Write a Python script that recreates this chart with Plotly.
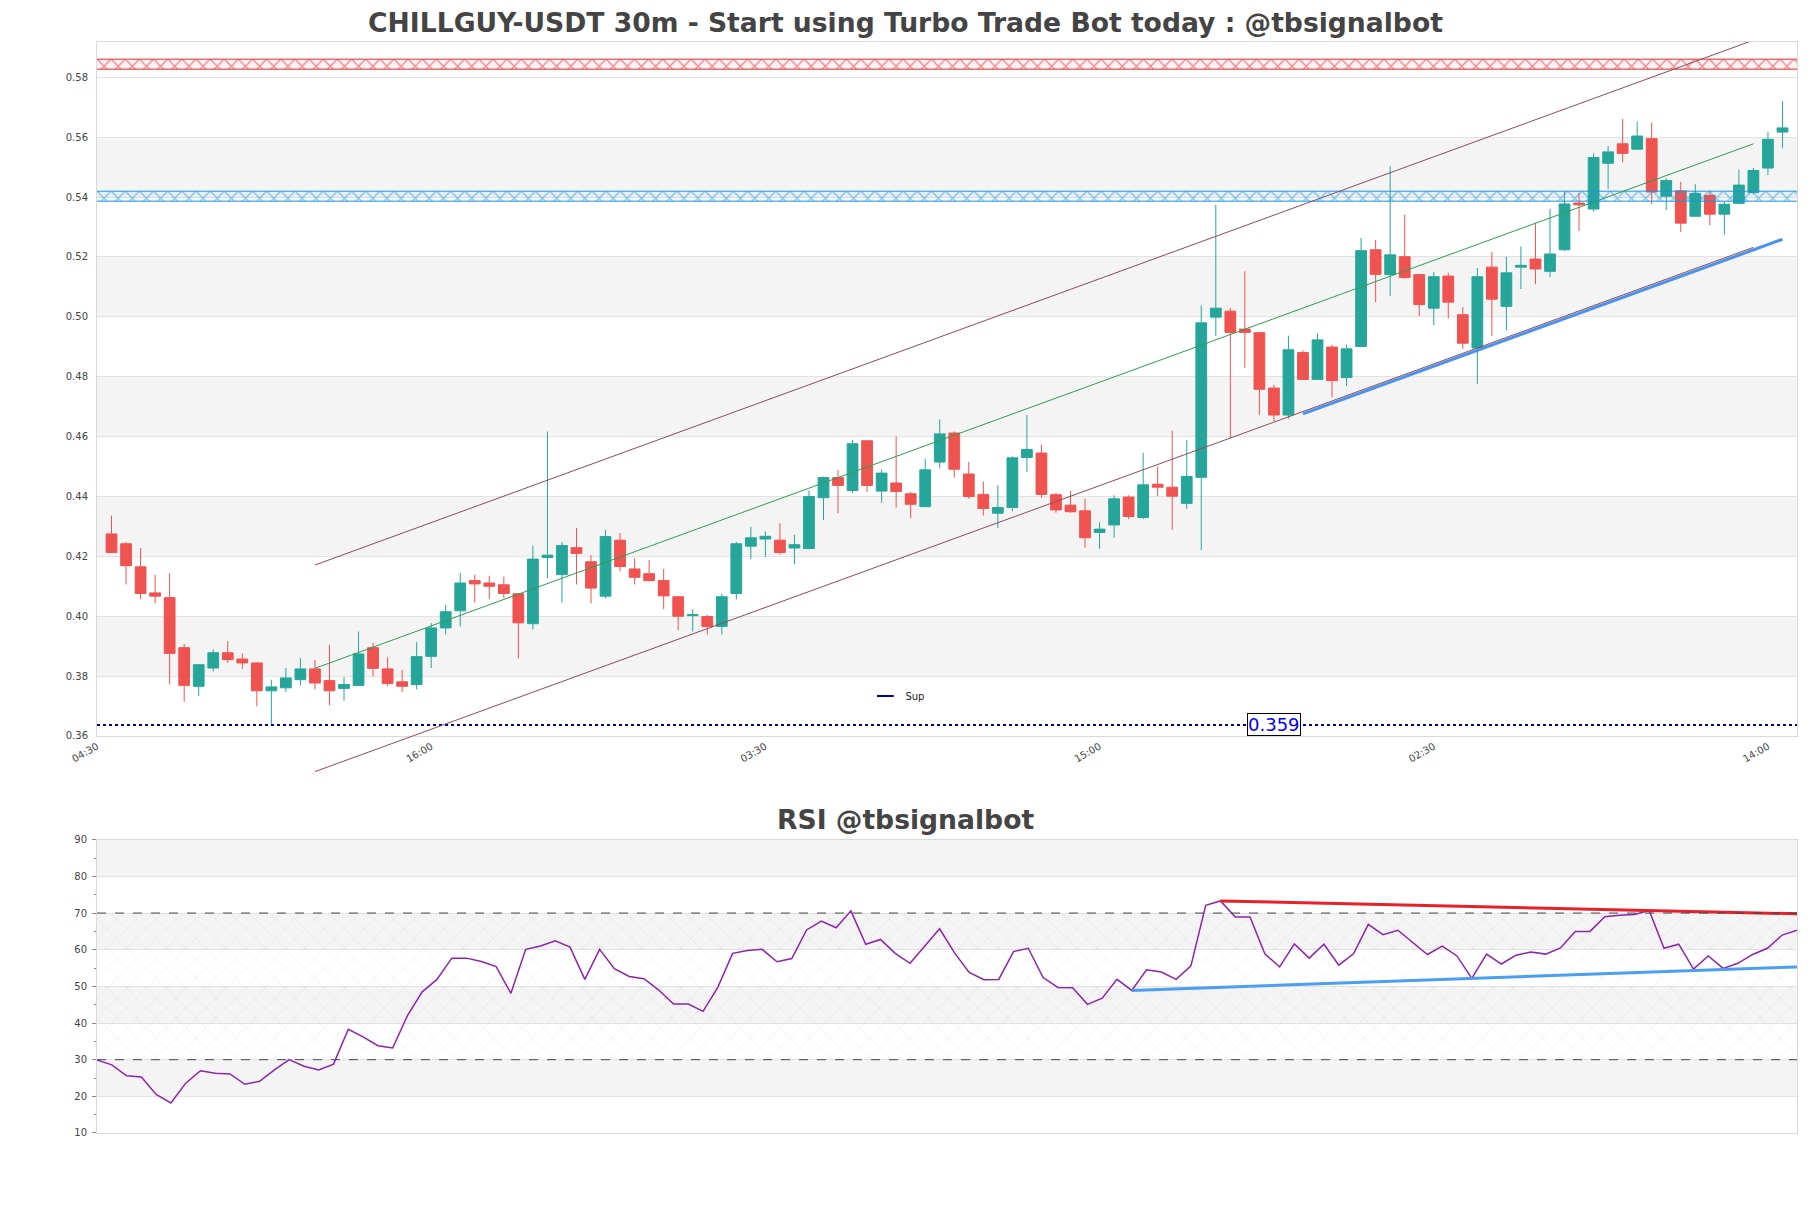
import pandas as pd
import plotly.graph_objects as go

title = 'CHILLGUY-USDT 30m - Start using Turbo Trade Bot today : @tbsignalbot'
rsi_title = 'RSI @tbsignalbot'

# 30m candles
open_ = [
	0.4275, 0.4242, 0.4165, 0.4078, 0.4062, 0.3895, 0.3766, 0.3827, 0.3878, 0.3857,
	0.3844, 0.3751, 0.3761, 0.3788, 0.3824, 0.3785, 0.3759, 0.3769, 0.3895, 0.3824,
	0.3781, 0.3772, 0.3866, 0.3961, 0.4018, 0.4119, 0.4111, 0.4105, 0.4075, 0.3975,
	0.4196, 0.4139, 0.4229, 0.4182, 0.4067, 0.4254, 0.4158, 0.4142, 0.4119, 0.4065,
	0.4002, 0.3999, 0.3966, 0.4076, 0.4234, 0.4258, 0.4254, 0.4228, 0.4226, 0.4396,
	0.4463, 0.4420, 0.4586, 0.4418, 0.4445, 0.4409, 0.4366, 0.4515, 0.4612, 0.4475,
	0.4407, 0.4344, 0.4363, 0.4530, 0.4545, 0.4406, 0.4371, 0.4352, 0.4280, 0.4305,
	0.4398, 0.4330, 0.4441, 0.4431, 0.4377, 0.4464, 0.4999, 0.5019, 0.4959, 0.4947,
	0.4762, 0.4672, 0.4881, 0.4791, 0.4899, 0.4797, 0.4901, 0.5224, 0.5141, 0.5201,
	0.5141, 0.5029, 0.5136, 0.5007, 0.4896, 0.5166, 0.5035, 0.5166, 0.5193, 0.5152,
	0.5224, 0.5380, 0.5360, 0.5513, 0.5578, 0.5560, 0.5595, 0.5403, 0.5421, 0.5336,
	0.5406, 0.5343, 0.5379, 0.5415, 0.5497, 0.5617]
high = [
	0.4336, 0.4248, 0.4228, 0.4138, 0.4144, 0.3908, 0.3841, 0.3890, 0.3917, 0.3876,
	0.3846, 0.3788, 0.3827, 0.3860, 0.3854, 0.3904, 0.3797, 0.3949, 0.3911, 0.3863,
	0.3821, 0.3914, 0.3977, 0.4038, 0.4144, 0.4138, 0.4135, 0.4132, 0.4077, 0.4236,
	0.4617, 0.4248, 0.4295, 0.4204, 0.4289, 0.4278, 0.4193, 0.4188, 0.4158, 0.4067,
	0.4024, 0.4005, 0.4075, 0.4248, 0.4299, 0.4284, 0.4311, 0.4272, 0.4420, 0.4466,
	0.4488, 0.4589, 0.4588, 0.4491, 0.4601, 0.4415, 0.4526, 0.4658, 0.4617, 0.4515,
	0.4450, 0.4437, 0.4534, 0.4672, 0.4573, 0.4412, 0.4418, 0.4392, 0.4314, 0.4404,
	0.4404, 0.4546, 0.4500, 0.4620, 0.4589, 0.5038, 0.5374, 0.5030, 0.5152, 0.4950,
	0.4773, 0.4937, 0.4888, 0.4945, 0.4907, 0.4907, 0.5264, 0.5257, 0.5503, 0.5341,
	0.5142, 0.5150, 0.5147, 0.5032, 0.5163, 0.5216, 0.5201, 0.5235, 0.5314, 0.5361,
	0.5420, 0.5414, 0.5546, 0.5570, 0.5661, 0.5652, 0.5649, 0.5463, 0.5451, 0.5443,
	0.5421, 0.5385, 0.5491, 0.5497, 0.5617, 0.5720]
low = [
	0.4213, 0.4106, 0.4057, 0.4043, 0.3772, 0.3714, 0.3734, 0.3816, 0.3844, 0.3824,
	0.3699, 0.3635, 0.3747, 0.3769, 0.3756, 0.3703, 0.3718, 0.3766, 0.3799, 0.3766,
	0.3747, 0.3756, 0.3827, 0.3939, 0.3966, 0.4046, 0.4057, 0.4060, 0.3859, 0.3956,
	0.4127, 0.4046, 0.4106, 0.4043, 0.4060, 0.4150, 0.4106, 0.4116, 0.4024, 0.3953,
	0.3949, 0.3939, 0.3939, 0.4056, 0.4191, 0.4198, 0.4206, 0.4174, 0.4224, 0.4321,
	0.4344, 0.4412, 0.4415, 0.4379, 0.4363, 0.4327, 0.4364, 0.4494, 0.4463, 0.4392,
	0.4336, 0.4295, 0.4351, 0.4482, 0.4396, 0.4346, 0.4346, 0.4229, 0.4225, 0.4262,
	0.4324, 0.4324, 0.4401, 0.4289, 0.4359, 0.4220, 0.4936, 0.4595, 0.4830, 0.4672,
	0.4652, 0.4660, 0.4790, 0.4790, 0.4731, 0.4769, 0.4900, 0.5049, 0.5070, 0.5128,
	0.5002, 0.4972, 0.4994, 0.4893, 0.4775, 0.4936, 0.4955, 0.5093, 0.5109, 0.5133,
	0.5219, 0.5286, 0.5352, 0.5428, 0.5516, 0.5559, 0.5377, 0.5357, 0.5283, 0.5335,
	0.5306, 0.5275, 0.5378, 0.5409, 0.5474, 0.5563]
close = [
	0.4213, 0.4169, 0.4076, 0.4067, 0.3876, 0.3769, 0.3838, 0.3878, 0.3855, 0.3844,
	0.3751, 0.3764, 0.3794, 0.3824, 0.3777, 0.3751, 0.3772, 0.3874, 0.3826, 0.3775,
	0.3766, 0.3865, 0.3961, 0.4015, 0.4111, 0.4108, 0.4100, 0.4076, 0.3978, 0.4191,
	0.4204, 0.4236, 0.4210, 0.4094, 0.4266, 0.4166, 0.4130, 0.4119, 0.4068, 0.4000,
	0.4005, 0.3966, 0.4065, 0.4242, 0.4262, 0.4267, 0.4213, 0.4239, 0.4400, 0.4463,
	0.4437, 0.4576, 0.4437, 0.4478, 0.4417, 0.4374, 0.4489, 0.4609, 0.4491, 0.4400,
	0.4360, 0.4363, 0.4529, 0.4557, 0.4407, 0.4355, 0.4349, 0.4262, 0.4291, 0.4392,
	0.4333, 0.4439, 0.4431, 0.4401, 0.4467, 0.4980, 0.5029, 0.4948, 0.4948, 0.4758,
	0.4672, 0.4890, 0.4791, 0.4923, 0.4787, 0.4893, 0.5221, 0.5142, 0.5207, 0.5131,
	0.5041, 0.5134, 0.5049, 0.4912, 0.5134, 0.5059, 0.5147, 0.5172, 0.5160, 0.5210,
	0.5377, 0.5374, 0.5532, 0.5551, 0.5546, 0.5604, 0.5417, 0.5455, 0.5313, 0.5412,
	0.5343, 0.5376, 0.5440, 0.5489, 0.5593, 0.5631]
rsi = [
	29.9, 28.6, 25.6, 25.3, 20.5, 18.2, 23.6, 27.0, 26.3, 26.1,
	23.3, 24.1, 27.2, 30.0, 28.2, 27.2, 28.8, 38.3, 36.2, 33.8,
	33.2, 42.0, 48.5, 51.9, 57.7, 57.7, 56.8, 55.4, 48.1, 60.1,
	61.0, 62.4, 60.7, 51.9, 60.1, 54.8, 52.7, 52.1, 49.0, 45.2,
	45.2, 43.2, 49.8, 59.0, 59.8, 60.1, 56.7, 57.6, 65.4, 67.8,
	66.0, 70.6, 61.5, 62.8, 59.0, 56.3, 61.0, 65.7, 59.2, 53.8,
	51.8, 51.9, 59.5, 60.4, 52.4, 49.7, 49.6, 45.1, 46.8, 51.9,
	48.9, 54.5, 53.9, 51.9, 55.6, 72.1, 73.3, 68.9, 68.9, 58.9,
	55.3, 61.6, 57.7, 61.5, 55.8, 58.9, 66.9, 64.1, 65.3, 62.1,
	58.7, 61.0, 58.3, 52.2, 58.8, 56.1, 58.5, 59.4, 58.8, 60.5,
	65.0, 65.0, 69.0, 69.4, 69.6, 70.7, 60.4, 61.5, 54.7, 58.3,
	54.9, 56.3, 58.7, 60.4, 64.0, 65.3]

time = pd.date_range('2024-11-25 05:00', periods=len(close), freq='30min')

# levels / zones
resistance_zone = (0.58273, 0.58607)
support_zone = (0.53863, 0.54197)
sup_level = 0.3637
sup_label = '0.359'

# price channel (candle index, value)
channel_ids = (14, 113)
channel_upper = (0.4171, 0.5924)
channel_mid = (0.3826, 0.5578)
channel_lower = (0.3481, 0.5232)

trend_ids = (82, 115)
trend_values = (0.4676, 0.5259)

rsi_res_ids = (76, 115)
rsi_res_values = (73.3, 69.8)
rsi_sup_ids = (70, 115)
rsi_sup_values = (48.9, 55.3)
rsi_levels = (30, 70)

price_bands = [0.38, 0.42, 0.46, 0.50, 0.54]
rsi_bands = [20, 40, 60, 80]

bar = pd.Timedelta(minutes=30)
x_range = [time[0] - bar, time[-1] + bar]
y_range = [0.36, 0.5918]
main_domain = [0.3639, 1.0]
rsi_domain = [0.0, 0.2688]
per_paper = (y_range[1] - y_range[0]) / (main_domain[1] - main_domain[0])

def to_paper(v):
	return main_domain[0] + (v - y_range[0]) / per_paper

# taller invisible subplot so the channel lines can run past the frame
channel_domain = [0.33, 1.0]
channel_range = [y_range[0] - (main_domain[0] - channel_domain[0]) * per_paper, y_range[1]]

font = 'DejaVu Sans'
teal = '#26a69a'
red = '#ef5350'
navy = '#0000a8'
zone_red = '#e0282e'
zone_blue = '#1e96dc'

fig = go.Figure()

fig.add_trace(go.Candlestick(
	x=time, open=open_, high=high, low=low, close=close,
	increasing=dict(line=dict(color=teal, width=1), fillcolor=teal),
	decreasing=dict(line=dict(color=red, width=1), fillcolor=red),
	whiskerwidth=0, showlegend=False, xaxis='x', yaxis='y'))

# each zone sits on its own invisible axis so the hatch tiles start at the zone edge
def zone(lo, hi, color, tint, yaxis):
	fill = go.Scatter(
		x=[x_range[0], x_range[1], x_range[1], x_range[0], x_range[0]],
		y=[lo, lo, hi, hi, lo],
		mode='lines', fill='toself', line=dict(width=0), fillcolor=tint,
		fillpattern=dict(shape='x', fgcolor=color, bgcolor=tint, size=10, solidity=0.27),
		hoverinfo='skip', showlegend=False, xaxis='x3', yaxis=yaxis)
	edges = go.Scatter(
		x=[x_range[0], x_range[1], None, x_range[0], x_range[1]],
		y=[lo, lo, None, hi, hi], mode='lines', line=dict(color=color, width=1),
		hoverinfo='skip', showlegend=False, xaxis='x', yaxis='y')
	return [fill, edges]

fig.add_traces(zone(*resistance_zone, zone_red, 'rgba(224,40,46,0.06)', 'y4'))
fig.add_traces(zone(*support_zone, zone_blue, 'rgba(30,150,220,0.06)', 'y5'))

fig.add_trace(go.Scatter(
	x=x_range, y=[sup_level, sup_level], mode='lines',
	line=dict(color=navy, width=2, dash='dot'),
	showlegend=False, xaxis='x', yaxis='y'))
fig.add_trace(go.Scatter(
	x=[None], y=[None], mode='markers', name='Sup',
	marker=dict(symbol='line-ew-open', size=12, color=navy, line=dict(color=navy, width=2)),
	xaxis='x', yaxis='y'))

for vals, color in [(channel_upper, '#8c4a5c'), (channel_mid, '#2e9e55'), (channel_lower, '#8c4a5c')]:
	fig.add_trace(go.Scatter(
		x=[time[i] for i in channel_ids], y=list(vals), mode='lines',
		line=dict(color=color, width=1), showlegend=False, xaxis='x3', yaxis='y3'))

fig.add_trace(go.Scatter(
	x=[time[i] for i in trend_ids], y=list(trend_values), mode='lines',
	line=dict(color='#4a93ec', width=3), showlegend=False, xaxis='x', yaxis='y'))

# RSI panel
fig.add_trace(go.Scatter(
	x=[time[0], time[-1], time[-1], time[0], time[0]],
	y=[rsi_levels[0], rsi_levels[0], rsi_levels[1], rsi_levels[1], rsi_levels[0]],
	mode='lines', fill='toself', line=dict(width=0), fillcolor='rgba(0,0,0,0)',
	fillpattern=dict(shape='x', fgcolor='rgba(150,130,185,0.55)', size=14, solidity=0.05),
	hoverinfo='skip', showlegend=False, xaxis='x2', yaxis='y2'))
fig.add_trace(go.Scatter(
	x=time, y=rsi, mode='lines', line=dict(color='#8e24aa', width=1.5),
	showlegend=False, xaxis='x2', yaxis='y2'))
fig.add_trace(go.Scatter(
	x=[time[i] for i in rsi_res_ids], y=list(rsi_res_values), mode='lines',
	line=dict(color='#e8202a', width=3), showlegend=False, xaxis='x2', yaxis='y2'))
fig.add_trace(go.Scatter(
	x=[time[i] for i in rsi_sup_ids], y=list(rsi_sup_values), mode='lines',
	line=dict(color='#4a9ff0', width=3), showlegend=False, xaxis='x2', yaxis='y2'))

shapes = []
for b in price_bands:
	shapes.append(dict(type='rect', xref='x domain', yref='y', x0=0, x1=1, y0=b, y1=b + 0.02,
		fillcolor='#f4f4f4', line=dict(width=0), layer='below'))
for b in rsi_bands:
	shapes.append(dict(type='rect', xref='x2 domain', yref='y2', x0=0, x1=1, y0=b, y1=b + 10,
		fillcolor='#f4f4f4', line=dict(width=0), layer='below'))
for lvl in rsi_levels:
	shapes.append(dict(type='line', xref='x2 domain', yref='y2', x0=0, x1=1, y0=lvl, y1=lvl,
		line=dict(color='#444', width=1, dash='dash')))

axis_common = dict(showline=True, linecolor='#d9d9d9', mirror=True, zeroline=False,
	tickfont=dict(size=10, color='#444'))

fig.update_layout(
	width=1811, height=1208,
	margin=dict(l=97, r=14, t=42, b=75),
	paper_bgcolor='white', plot_bgcolor='rgba(0,0,0,0)',
	font=dict(family=font, color='#444'),
	boxgap=0.26, boxgroupgap=0,
	title=dict(text=title, x=0.5, xref='container', y=1 - 23 / 1208, yref='container',
		xanchor='center', yanchor='middle',
		font=dict(family=font, size=26.6, color='#444', weight='bold')),
	xaxis=dict(domain=[0, 1], anchor='y', type='date', range=x_range,
		tick0=x_range[0], dtick=11.5 * 3600 * 1000, tickformat='%H:%M', tickangle=-30,
		showgrid=False, rangeslider=dict(visible=False), **axis_common),
	yaxis=dict(domain=main_domain, anchor='x', range=y_range, dtick=0.02, tickformat='.2f',
		gridcolor='#e3e3e3', ticklabelstandoff=6, **axis_common),
	xaxis2=dict(domain=[0, 1], anchor='y2', type='date', range=[time[0], time[-1]],
		showticklabels=False, showgrid=False, **axis_common),
	yaxis2=dict(domain=rsi_domain, anchor='x2', range=[10, 90], dtick=10,
		ticks='outside', ticklen=4, tickcolor='#888', gridcolor='#e3e3e3', ticklabelstandoff=3,
		minor=dict(ticks='outside', ticklen=2, dtick=5, tickcolor='#888', showgrid=False),
		**axis_common),
	xaxis3=dict(domain=[0, 1], anchor='y3', type='date', range=x_range, visible=False),
	yaxis3=dict(domain=channel_domain, anchor='x3', range=channel_range, visible=False),
	yaxis4=dict(domain=[to_paper(v) for v in resistance_zone], anchor='x3',
		range=list(resistance_zone), visible=False),
	yaxis5=dict(domain=[to_paper(v) for v in support_zone], anchor='x3',
		range=list(support_zone), visible=False),
	legend=dict(x=0.452, y=0.4005, xanchor='left', yanchor='middle',
		bgcolor='rgba(0,0,0,0)', font=dict(size=10, color='#222')),
	shapes=shapes,
	annotations=[
		dict(text=rsi_title, xref='paper', yref='paper', x=(905.5 - 97) / 1700, y=0.2869,
			showarrow=False, xanchor='center', yanchor='middle',
			font=dict(family=font, size=26.6, color='#444', weight='bold')),
		dict(text=sup_label, x=time[80], y=sup_level, xref='x', yref='y', showarrow=False,
			font=dict(size=18, color='#0000ff'), bgcolor='white',
			bordercolor='black', borderwidth=1, borderpad=0),
	],
)

fig.write_html('out.html', config={'displayModeBar': False},
	post_script="document.body.style.margin='0';")
